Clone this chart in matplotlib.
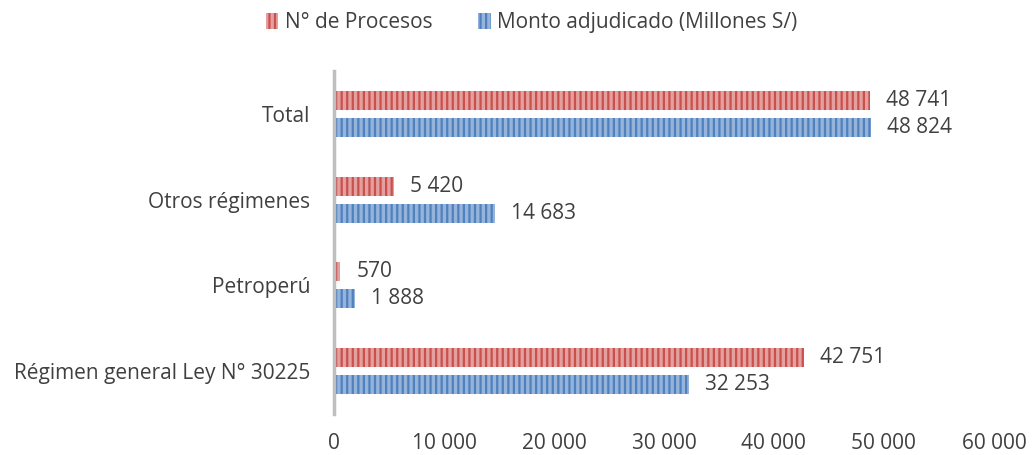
import matplotlib.pyplot as plt
import numpy as np

plt.rcParams['font.family'] = ['Open Sans', 'DejaVu Sans']
plt.rcParams['hatch.linewidth'] = 1.6

categorias = ['Régimen general Ley N° 30225', 'Petroperú', 'Otros régimenes', 'Total']
procesos = [42751, 570, 5420, 48741]
monto = [32253, 1888, 14683, 48824]
ticks = [0, 10000, 20000, 30000, 40000, 50000, 60000]

def fmt(v):
    return f"{v:,}".replace(",", " ")

fig = plt.figure(figsize=(10.32, 4.55), dpi=100)
ax = fig.add_axes([0.3236, 0.0901, 0.6395, 0.7539])

y = np.arange(len(categorias))
h = 0.222
d = 0.1575
b1 = ax.barh(y + d, procesos, height=h, color='#E3A09E', edgecolor='#C9504D',
             hatch='|||', linewidth=0, label='N° de Procesos')
b2 = ax.barh(y - d, monto, height=h, color='#95B3DB', edgecolor='#4F81BD',
             hatch='|||', linewidth=0, label='Monto adjudicado (Millones S/)')

for yy, v in zip(y, procesos):
    ax.text(v + 1450, yy + d, fmt(v), va='center', ha='left', fontsize=15, color='#404040')
for yy, v in zip(y, monto):
    ax.text(v + 1450, yy - d, fmt(v), va='center', ha='left', fontsize=15, color='#404040')

ax.set_xlim(0, 60000)
ax.set_ylim(-0.5, 3.5)
ax.set_xticks(ticks)
ax.set_xticklabels([fmt(t) for t in ticks], fontsize=15, color='#404040')
ax.set_yticks(y)
ax.set_yticklabels(categorias, fontsize=15, color='#404040')
ax.tick_params(length=0, pad=17)
ax.tick_params(axis='x', pad=14)
for s in ['top', 'right', 'bottom']:
    ax.spines[s].set_visible(False)
ax.spines['left'].set_color('#BFBFBF')
ax.spines['left'].set_linewidth(2.5)

fig.legend(handles=[b1, b2], loc='upper center', bbox_to_anchor=(0.515, 1.015), ncol=2,
           frameon=False, fontsize=15, handlelength=0.6, handleheight=0.8,
           handletextpad=0.3, columnspacing=2.2, labelcolor='#404040')

fig.savefig('out.png')
